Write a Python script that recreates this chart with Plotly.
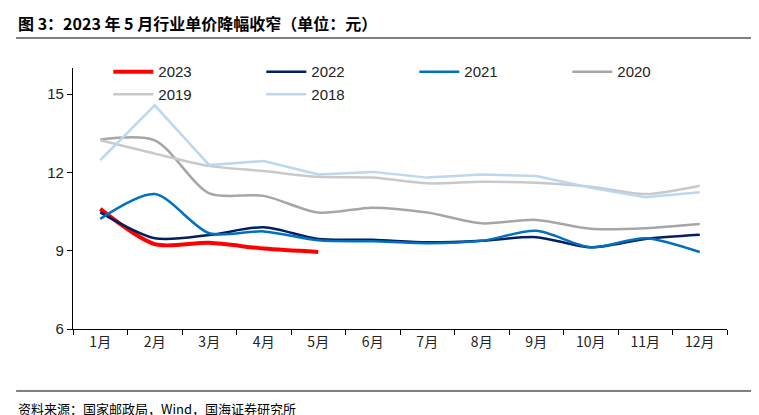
import plotly.graph_objects as go

months = ["1月","2月","3月","4月","5月","6月","7月","8月","9月","10月","11月","12月"]
y2023 = [10.6, 9.25, 9.3, 9.08, 8.95]
y2022 = [10.47, 9.48, 9.6, 9.9, 9.45, 9.42, 9.32, 9.38, 9.52, 9.13, 9.45, 9.61]
y2021 = [10.22, 11.17, 9.67, 9.74, 9.4, 9.36, 9.29, 9.38, 9.76, 9.13, 9.48, 8.95]
y2020 = [13.26, 13.23, 11.2, 11.1, 10.46, 10.65, 10.46, 10.05, 10.18, 9.84, 9.86, 10.02]
y2019 = [13.23, 12.72, 12.25, 12.05, 11.83, 11.8, 11.58, 11.64, 11.6, 11.45, 11.17, 11.49]
y2018 = [12.47, 14.57, 12.28, 12.44, 11.92, 12.02, 11.8, 11.92, 11.86, 11.41, 11.05, 11.24]

series = [
    ("2023", y2023, "#FF0000", 4, "spline"),
    ("2022", y2022, "#002060", 2.5, "spline"),
    ("2021", y2021, "#0070C0", 2.5, "spline"),
    ("2020", y2020, "#A6A6A6", 2.5, "spline"),
    ("2019", y2019, "#C9C9C9", 2.5, "spline"),
    ("2018", y2018, "#BDD7EE", 2.5, "linear"),
]
fig = go.Figure()
for name, ys, c, w, shape in series:
    fig.add_trace(go.Scatter(x=months[:len(ys)], y=ys, name=name, mode="lines",
                             line=dict(color=c, width=w, shape=shape, smoothing=0.8)))

font = "Noto Sans CJK SC"
fig.update_layout(
    width=759, height=415, plot_bgcolor="white", paper_bgcolor="white",
    margin=dict(l=65, r=40, t=60, b=94, autoexpand=False),
    font=dict(family=font, size=14, color="#222"),
    showlegend=True,
    legend=dict(orientation="h", x=0.054, y=0.943, xanchor="left", yanchor="middle",
                font=dict(size=15, family="Liberation Sans"), bgcolor="rgba(0,0,0,0)",
                entrywidth=98, entrywidthmode="pixels", itemwidth=40),
    xaxis=dict(type="category", categoryorder="array", categoryarray=months,
               range=[-0.5, 11.5], showline=True, linecolor="#000", linewidth=1.2,
               ticks="outside", tickson="boundaries", ticklen=5, tickcolor="#000",
               showgrid=False, tickfont=dict(size=14)),
    yaxis=dict(range=[6, 16], tickvals=[6, 9, 12, 15], showline=True, linecolor="#000",
               linewidth=1.2, ticks="outside", ticklen=5, tickcolor="#000",
               showgrid=False, zeroline=False, tickfont=dict(size=15, family="Liberation Sans")),
    annotations=[
        dict(text="<b>图 3：2023 年 5 月行业单价降幅收窄（单位：元）</b>", xref="paper", yref="paper",
             x=-0.087, y=1.172, xanchor="left", yanchor="middle", showarrow=False,
             font=dict(size=16, color="#000", family=font)),
        dict(text="资料来源：国家邮政局，Wind，国海证券研究所", xref="paper", yref="paper",
             x=-0.087, y=-0.303, xanchor="left", yanchor="middle", showarrow=False,
             font=dict(size=13, color="#000", family=font)),
    ],
    shapes=[
        dict(type="line", xref="paper", yref="paper", x0=-0.087, x1=1.05, y0=1.115, y1=1.115,
             line=dict(color="#000", width=1)),
        dict(type="line", xref="paper", yref="paper", x0=-0.087, x1=1.05, y0=-0.2375, y1=-0.2375,
             line=dict(color="#000", width=1)),
    ],
)
fig.write_html("out.html")
